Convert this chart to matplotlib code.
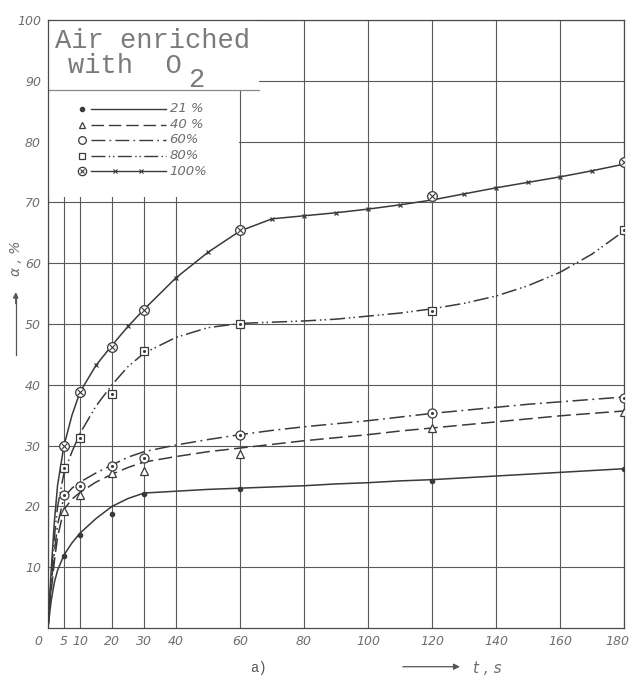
import numpy as np
import matplotlib.pyplot as plt
from matplotlib.patches import Rectangle
from matplotlib.transforms import ScaledTranslation

# smooth curves
t_curve = [0, 1, 2, 3, 5, 7.5, 10, 15, 20, 25, 30, 40, 50, 60, 70, 80, 90,
           100, 110, 120, 130, 140, 150, 160, 170, 180]
curve_21 = [0, 4.5, 7.5, 9.5, 12, 14, 15.6, 18, 20, 21.3, 22.2, 22.5, 22.8, 23,
            23.2, 23.4, 23.7, 23.9, 24.2, 24.4, 24.7, 25, 25.3, 25.6, 25.9, 26.2]
curve_40 = [0, 6, 11, 15, 19.5, 21.2, 22.3, 24, 25.3, 26.4, 27.3, 28.2, 29, 29.6,
            30.2, 30.8, 31.3, 31.8, 32.4, 32.9, 33.4, 33.9, 34.4, 34.9, 35.3, 35.7]
curve_60 = [0, 7, 12.5, 17, 21.5, 23, 24, 25.5, 26.8, 28.1, 29, 30.1, 31, 31.8,
            32.5, 33.1, 33.6, 34.1, 34.7, 35.3, 35.8, 36.3, 36.8, 37.2, 37.6, 38.0]
curve_80 = [0, 8, 15, 20, 25.5, 29, 32, 36.5, 40, 43, 45.2, 47.8, 49.4, 50.1,
            50.3, 50.5, 50.8, 51.3, 51.8, 52.5, 53.4, 54.6, 56.3, 58.5, 61.5, 65.3]
curve_100 = [0, 9.5, 17.5, 23.5, 30, 35, 38.8, 43.2, 46.5, 49.6, 52.4, 57.6, 61.8,
             65.3, 67.3, 67.8, 68.3, 68.9, 69.6, 70.4, 71.4, 72.4, 73.3, 74.2,
             75.2, 76.3]

# measured points
t_meas = [5, 10, 20, 30, 60, 120, 180]
meas_21 = [11.9, 15.3, 18.8, 22.1, 22.9, 24.1, 26.2]
meas_40 = [19.2, 21.9, 25.5, 25.9, 28.6, 32.9, 35.6]
meas_60 = [21.8, 23.4, 26.6, 27.9, 31.8, 35.3, 37.8]
meas_80 = [26.3, 31.2, 38.5, 45.5, 50.0, 52.2, 65.4]
meas_100 = [30.0, 38.9, 46.3, 52.3, 65.4, 71.0, 76.6]

labels = ['21 %', '40 %', '60%', '80%', '100%']
x_ticks = [0, 5, 10, 20, 30, 40, 60, 80, 100, 120, 140, 160, 180]
y_ticks = [10, 20, 30, 40, 50, 60, 70, 80, 90, 100]

ink = '#3a3a3a'
txt = '#6e6e6e'
dashes = [None, (9, 3.5), (10, 3, 1.2, 3), (10, 2.5, 1, 2, 1, 2.5), None]
curves = [curve_21, curve_40, curve_60, curve_80, curve_100]

fig = plt.figure(figsize=(6.33, 6.81), dpi=100)
ax = fig.add_axes([0.0758, 0.0778, 0.910, 0.8928])
ax.set_xlim(0, 180)
ax.set_ylim(0, 100)
ax.set_xticks(x_ticks)
ax.set_yticks(y_ticks)
ax.grid(True, color='#5a5a5a', lw=0.8, zorder=0)
ax.set_axisbelow(True)
for s in ax.spines.values():
    s.set_color('#4a4a4a')
    s.set_linewidth(0.9)
ax.tick_params(length=0, pad=5, labelcolor=txt, labelsize=9)
for lab in ax.get_xticklabels() + ax.get_yticklabels():
    lab.set_fontstyle('italic')
# keep the last x label inside the picture, the first one a bit left
xl = ax.get_xticklabels()
xl[-1].set_transform(xl[-1].get_transform() +
                     ScaledTranslation(-5 / 72, 0, fig.dpi_scale_trans))
xl[0].set_transform(xl[0].get_transform() +
                    ScaledTranslation(-7 / 72, 0, fig.dpi_scale_trans))

# white area behind the title and legend
ax.add_patch(Rectangle((0, 70.9), 59.6, 29.1, fc='white', ec='none', zorder=1))
ax.add_patch(Rectangle((0, 88.5), 66, 11.5, fc='white', ec='none', zorder=1))
ax.plot([0, 66], [88.5, 88.5], color='#888', lw=0.9, zorder=2)

# curves
for c, d in zip(curves, dashes):
    ln, = ax.plot(t_curve, c, color=ink, lw=1.1, zorder=3)
    if d is not None:
        ln.set_dashes(d)
cross_idx = [i for i, t in enumerate(t_curve) if t >= 15 and t not in t_meas]
ax.plot(t_curve, curve_100, ls='none', marker='x', ms=3.5, mew=0.9,
        color=ink, markevery=cross_idx, zorder=3)

# markers
mk = dict(ls='none', color=ink, zorder=4)
ax.plot(t_meas, meas_21, marker='o', ms=3, **mk)
ax.plot(t_meas, meas_40, marker='^', ms=6, mfc='white', mew=0.9, **mk)
ax.plot(t_meas, meas_60, marker='o', ms=6.5, mfc='white', mew=0.9, **mk)
ax.plot(t_meas, meas_60, marker='o', ms=1.2, **mk)
ax.plot(t_meas, meas_80, marker='s', ms=6, mfc='white', mew=0.9, **mk)
ax.plot(t_meas, meas_80, marker='o', ms=1.2, **mk)
ax.plot(t_meas, meas_100, marker='o', ms=7, mfc='white', mew=0.9, **mk)
ax.plot(t_meas, meas_100, marker='x', ms=4, mew=0.8, **mk)

# hand-drawn style legend
rows = [85.4, 82.8, 80.3, 77.7, 75.1]
leg_marks = [('o', 3, None), ('^', 5, 'white'), ('o', 5.5, 'white'),
             ('s', 5, 'white'), ('o', 6, 'white')]
for y, (m, ms, fc), d, lab in zip(rows, leg_marks, dashes, labels):
    if fc is None:
        ax.plot(10.5, y, marker=m, ms=ms, color=ink, zorder=4)
    else:
        ax.plot(10.5, y, marker=m, ms=ms, mfc=fc, mew=0.9, color=ink, zorder=4)
    ln, = ax.plot([13.5, 37], [y, y], color=ink, lw=1.0, zorder=4)
    if d is not None:
        ln.set_dashes(d)
    ax.text(38, y, lab, fontsize=9.5, style='italic', color=txt,
            va='center', ha='left', zorder=4)
ax.plot(10.5, rows[4], marker='x', ms=3.5, mew=0.8, color=ink, zorder=5)
ax.plot([21, 29], [rows[4]] * 2, ls='none', marker='x', ms=3, mew=0.8,
        color=ink, zorder=5)

# title
mono = 'Liberation Mono'
ax.text(2.2, 95.4, 'Air enriched', family=mono, fontsize=19.5, color='#7a7a7a',
        va='baseline', zorder=4)
ax.text(6.3, 91.3, 'with  O', family=mono, fontsize=19.5, color='#7a7a7a',
        va='baseline', zorder=4)
ax.text(43.8, 89.0, '2', family=mono, fontsize=19.5, color='#7a7a7a',
        va='baseline', zorder=4)

# axis labels
fig.text(0.0255, 0.621, 'α , %', rotation=90, fontsize=10, style='italic',
         color=txt, ha='center', va='center')
fig.add_artist(plt.Line2D([0.0248, 0.0248], [0.478, 0.568], color='#555', lw=0.9))
ax.annotate('', xy=(0.0248, 0.575), xytext=(0.0248, 0.55),
            xycoords='figure fraction',
            arrowprops=dict(arrowstyle='-|>', color='#555', lw=0.9,
                            mutation_scale=8))
fig.text(0.408, 0.019, 'a)', family=mono, fontsize=10, color='#555',
         ha='center', va='center')
ax.annotate('', xy=(0.731, 0.021), xytext=(0.632, 0.021),
            xycoords='figure fraction',
            arrowprops=dict(arrowstyle='-|>', color='#555', lw=0.9,
                            mutation_scale=9))
fig.text(0.748, 0.019, 't , s', fontsize=11, style='italic', color=txt,
         ha='left', va='center')

fig.savefig('out.png', dpi=100)
